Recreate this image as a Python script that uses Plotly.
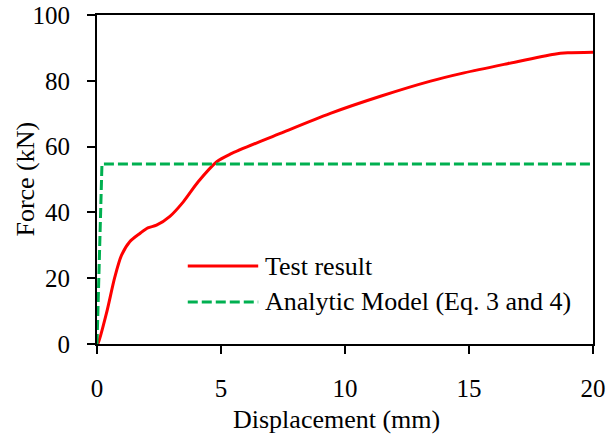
import plotly.graph_objects as go

test_x = [0, 0.04, 0.38, 0.72, 0.99, 1.32, 1.73, 2.05, 2.40, 2.94, 3.48, 4.08, 4.83,
          5.37, 7.39, 9.41, 11.43, 13.45, 14.8, 16.55, 18.44, 18.98, 20.0]
test_y = [0, 0.2, 9.3, 20.4, 27.0, 31.1, 33.6, 35.3, 36.1, 38.8, 43.2, 49.3, 55.4,
          57.7, 64.0, 70.1, 75.3, 79.9, 82.4, 85.2, 88.1, 88.5, 88.7]
model_x = [0, 0.2, 20]
model_y = [0, 54.7, 54.7]

series_names = ["Test result", "Analytic Model (Eq. 3 and 4)"]
x_ticks = [0, 5, 10, 15, 20]
y_ticks = [0, 20, 40, 60, 80, 100]
x_title = "Displacement (mm)"
y_title = "Force (kN)"

RED = "#FF0000"
GREEN = "#00B050"
FONT = "Liberation Serif, Times New Roman, serif"
DASH = "10px,4px"

fig = go.Figure()
fig.add_trace(go.Scatter(x=test_x, y=test_y, mode="lines", name=series_names[0],
                         line=dict(color=RED, width=3, shape="spline", smoothing=0.8),
                         showlegend=False))
fig.add_trace(go.Scatter(x=model_x, y=model_y, mode="lines", name=series_names[1],
                         line=dict(color=GREEN, width=3, dash=DASH),
                         showlegend=False))

# custom legend (long line samples as in reference)
leg = [(series_names[0], RED, "solid", 0.237), (series_names[1], GREEN, DASH, 0.128)]
for name, col, dash, yp in leg:
    fig.add_shape(type="line", xref="paper", yref="paper", x0=0.183, x1=0.325, y0=yp, y1=yp,
                  line=dict(color=col, width=3, dash=dash))
    fig.add_annotation(xref="paper", yref="paper", x=0.334, y=yp, text=name, showarrow=False,
                       xanchor="left", yanchor="middle",
                       font=dict(family=FONT, size=26, color="black"))

# axis titles placed as text
fig.add_annotation(xref="paper", yref="paper", x=-0.145, y=0.5, text=y_title, showarrow=False,
                   textangle=-90, xanchor="center", yanchor="middle",
                   font=dict(family=FONT, size=26, color="black"))
fig.add_annotation(xref="paper", yref="paper", x=0.483, y=-0.228, text=x_title, showarrow=False,
                   xanchor="center", yanchor="middle",
                   font=dict(family=FONT, size=26, color="black"))

axis_common = dict(showline=True, linecolor="black", linewidth=2, mirror=True,
                   ticks="outside", ticklen=8, tickwidth=2, tickcolor="black",
                   showgrid=False, zeroline=False, automargin=False,
                   tickfont=dict(family=FONT, size=25, color="black"))

fig.update_xaxes(range=[0, 20], tickvals=x_ticks, ticktext=[str(t) for t in x_ticks],
                 ticklabelstandoff=13, **axis_common)
fig.update_yaxes(range=[0, 100], tickvals=y_ticks, ticktext=[str(t) for t in y_ticks],
                 ticklabelstandoff=12, **axis_common)

fig.update_layout(width=608, height=436, margin=dict(l=97, r=15, t=15, b=92),
                  paper_bgcolor="white", plot_bgcolor="white",
                  font=dict(family=FONT, size=25, color="black"))

fig.write_html("out.html")
